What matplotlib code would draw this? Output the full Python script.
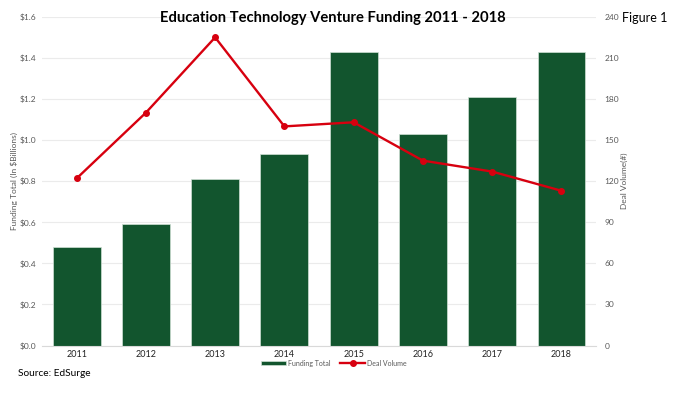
import numpy as np
import matplotlib.pyplot as plt

years = ["2011", "2012", "2013", "2014", "2015", "2016", "2017", "2018"]
funding = [0.48, 0.59, 0.81, 0.93, 1.43, 1.03, 1.21, 1.43]
deals = [122, 170, 225, 160, 163, 135, 127, 113]

green = "#12552e"
red = "#d7000f"
grey = "#595959"

plt.rcParams['font.family'] = ['Lato', 'DejaVu Sans']

fig = plt.figure(figsize=(6.84, 3.96), dpi=100)
ax = fig.add_axes([0.0614, 0.1275, 0.810, 0.830])
x = np.arange(len(years))

bars = ax.bar(x, funding, width=0.69, color=green, edgecolor="#cfe0d4",
              linewidth=0.5, label="Funding Total", zorder=2)
ax.set_xlim(-0.5, 7.5)
ax.set_ylim(0, 1.6)
ax.set_yticks(np.arange(0, 1.61, 0.2))
ax.set_yticklabels(["$%.1f" % v for v in np.arange(0, 1.61, 0.2)])
ax.set_xticks(x)
ax.set_xticklabels(years)
ax.grid(axis="y", color="#ebebeb", linewidth=0.8, zorder=0)
ax.set_axisbelow(True)
for s in ax.spines.values():
    s.set_visible(False)
ax.spines["bottom"].set_visible(True)
ax.spines["bottom"].set_color("#d9d9d9")
ax.tick_params(axis="y", length=0, labelsize=6, labelcolor=grey, pad=4)
ax.tick_params(axis="x", length=0, labelsize=6.5, labelcolor="#222222", pad=3)
ax.set_ylabel("Funding Total (In $Billions)", fontsize=6, color=grey, labelpad=1)

ax2 = ax.twinx()
line, = ax2.plot(x, deals, color=red, linewidth=1.7, marker="o", markersize=4,
                 label="Deal Volume", zorder=3)
ax2.set_ylim(0, 240)
ax2.set_yticks(np.arange(0, 241, 30))
for s in ax2.spines.values():
    s.set_visible(False)
ax2.tick_params(axis="y", length=0, labelsize=6, labelcolor=grey, pad=6)
ax2.set_ylabel("Deal Volume(#)", fontsize=6, color=grey, labelpad=1)

fig.legend([bars, line], ["Funding Total", "Deal Volume"], loc="center",
           bbox_to_anchor=(0.488, 0.083), ncol=2, frameon=False, fontsize=5,
           labelcolor=grey, handlelength=3.6, handleheight=0.6, columnspacing=1.4,
           handletextpad=0.3)

fig.text(0.487, 0.955, "Education Technology Venture Funding 2011 - 2018",
         ha="center", va="center", fontsize=10.6, fontweight="bold")
fig.text(0.909, 0.955, "Figure 1", ha="left", va="center", fontsize=9)
fig.text(0.027, 0.058, "Source: EdSurge", ha="left", va="center", fontsize=7.3)

fig.savefig("out.png", dpi=100)
